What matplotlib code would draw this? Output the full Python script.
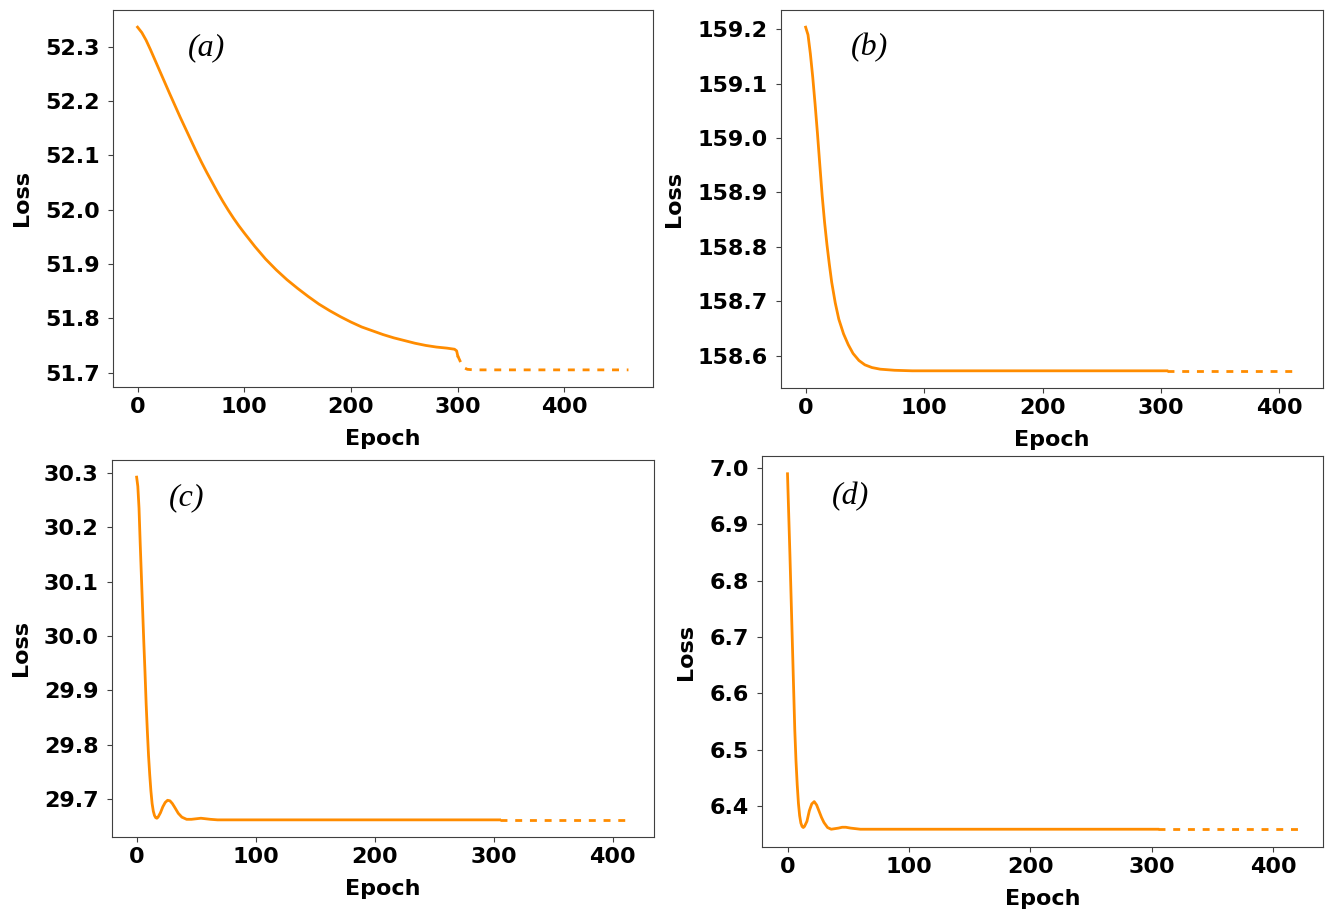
import matplotlib
matplotlib.use('Agg')
import matplotlib.pyplot as plt
from matplotlib.ticker import MultipleLocator, FormatStrFormatter

# ---- data ----
# (a)
a_ep = [0, 4, 8, 12, 16, 20, 25, 30, 35, 40, 45, 50, 55, 60, 65, 70, 75,
        80, 85, 90, 95, 100, 110, 120, 130, 140, 150, 160, 170, 180, 190,
        200, 210, 220, 230, 240, 250, 260, 270, 280, 290, 297, 299, 300]
a_loss = [52.336, 52.326, 52.312, 52.295, 52.277, 52.259, 52.2365, 52.214,
          52.192, 52.170, 52.149, 52.128, 52.107, 52.087, 52.068, 52.050,
          52.032, 52.015, 51.999, 51.984, 51.970, 51.957, 51.932, 51.909,
          51.889, 51.871, 51.855, 51.840, 51.826, 51.814, 51.803, 51.793,
          51.784, 51.777, 51.770, 51.764, 51.759, 51.754, 51.750, 51.747,
          51.745, 51.743, 51.740, 51.731]
a_ep_dash = [300, 303, 306, 309, 315, 460]
a_loss_dash = [51.731, 51.718, 51.709, 51.706, 51.705, 51.705]

# (b)
b_ep = [0, 2, 4, 6, 8, 10, 12, 14, 16, 18, 20, 22, 25, 28, 32, 36, 40, 45,
        50, 56, 63, 75, 90, 120, 305]
b_loss = [159.204, 159.190, 159.155, 159.112, 159.062, 159.008, 158.950,
          158.893, 158.845, 158.804, 158.768, 158.735, 158.697, 158.667,
          158.640, 158.620, 158.604, 158.591, 158.583, 158.578, 158.575,
          158.573, 158.572, 158.572, 158.572]
b_ep_dash = [305, 416]
b_loss_dash = [158.572, 158.572]

# (c)
c_ep = [0, 1, 2, 3, 4, 5, 6, 7, 8, 9, 10, 11, 12, 13, 14, 15, 16, 17, 18,
        20, 22, 24, 26, 28, 30, 32, 35, 38, 42, 46, 50, 54, 58, 62, 68, 75, 305]
c_loss = [30.292, 30.275, 30.235, 30.170, 30.110, 30.050, 29.990, 29.935,
          29.875, 29.825, 29.780, 29.745, 29.715, 29.692, 29.678, 29.670,
          29.666, 29.665, 29.667, 29.675, 29.686, 29.694, 29.698, 29.697,
          29.692, 29.685, 29.674, 29.667, 29.663, 29.663, 29.664, 29.665,
          29.664, 29.663, 29.662, 29.662, 29.662]
c_ep_dash = [305, 414]
c_loss_dash = [29.662, 29.662]

# (d)
d_ep = [0, 1, 2, 3, 4, 5, 6, 7, 8, 9, 10, 11, 12, 13, 14, 16, 18, 20, 22,
        24, 26, 28, 30, 33, 36, 39, 42, 45, 48, 52, 56, 60, 70, 305]
d_loss = [6.990, 6.918, 6.846, 6.768, 6.690, 6.612, 6.535, 6.480, 6.438,
          6.405, 6.383, 6.370, 6.364, 6.362, 6.364, 6.373, 6.392, 6.404,
          6.408, 6.402, 6.391, 6.380, 6.371, 6.362, 6.359, 6.360, 6.361,
          6.3625, 6.3625, 6.361, 6.360, 6.359, 6.359, 6.359]
d_ep_dash = [305, 420]
d_loss_dash = [6.359, 6.359]

labels = ['(a)', '(b)', '(c)', '(d)']

# axes boxes in pixels (left, top, right, bottom) of the 1331x924 picture
W, H = 1331, 924
boxes = [(113, 10, 653, 387), (781, 10, 1323, 388),
         (112, 460, 654, 837), (762, 456, 1323, 847)]
label_pos = [(0.174, 0.90), (0.164, 0.90), (0.137, 0.90), (0.157, 0.895)]

panels = [(a_ep, a_loss, a_ep_dash, a_loss_dash),
          (b_ep, b_loss, b_ep_dash, b_loss_dash),
          (c_ep, c_loss, c_ep_dash, c_loss_dash),
          (d_ep, d_loss, d_ep_dash, d_loss_dash)]

col = '#ff8c00'
fig = plt.figure(figsize=(W / 100, H / 100), dpi=100)

for k, (ep, loss, ep2, loss2) in enumerate(panels):
    l, t, r, b = boxes[k]
    ax = fig.add_axes([l / W, 1 - b / H, (r - l) / W, (b - t) / H])
    ax.plot(ep, loss, color=col, lw=2)
    ax.plot(ep2, loss2, color=col, lw=2, dashes=(2.5, 2.8))
    ax.xaxis.set_major_locator(MultipleLocator(100))
    ax.yaxis.set_major_locator(MultipleLocator(0.1))
    ax.yaxis.set_major_formatter(FormatStrFormatter('%.1f'))
    ax.xaxis.set_major_formatter(FormatStrFormatter('%d'))
    ax.tick_params(axis='y', pad=6)
    ax.tick_params(axis='x', pad=4)
    for tl in ax.get_xticklabels() + ax.get_yticklabels():
        tl.set_fontsize(16)
        tl.set_fontweight('bold')
    ax.set_xlabel('Epoch', fontsize=16, fontweight='bold', labelpad=8)
    ax.set_ylabel('Loss', fontsize=16, fontweight='bold', labelpad=9.5)
    for sp in ax.spines.values():
        sp.set_color('0.25')
    ax.tick_params(color='0.25')
    ax.text(label_pos[k][0], label_pos[k][1], labels[k], transform=ax.transAxes,
            ha='center', va='center', fontsize=23, style='italic',
            family='Liberation Serif')

fig.savefig('out.png', dpi=100)
